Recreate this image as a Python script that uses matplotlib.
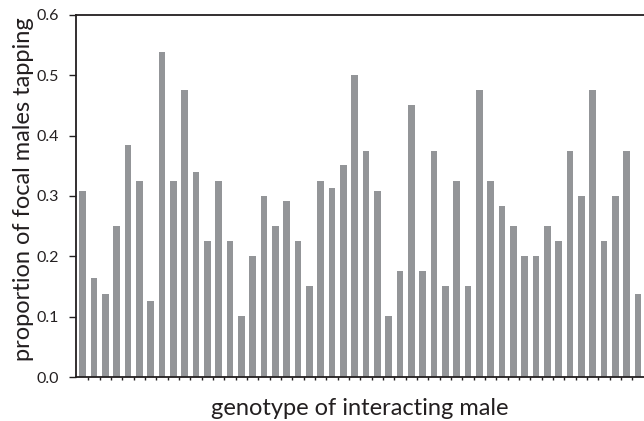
import matplotlib.pyplot as plt
import numpy as np

plt.rcParams['font.family'] = ['Lato', 'DejaVu Sans']

# proportion of focal males tapping, per interacting male genotype
tapping = [0.309, 0.164, 0.138, 0.251, 0.385, 0.325, 0.126, 0.538, 0.325, 0.476,
           0.339, 0.226, 0.325, 0.226, 0.101, 0.200, 0.300, 0.251, 0.292, 0.226,
           0.151, 0.325, 0.313, 0.351, 0.500, 0.375, 0.309, 0.101, 0.176, 0.450,
           0.176, 0.375, 0.151, 0.325, 0.151, 0.476, 0.325, 0.283, 0.251, 0.200,
           0.200, 0.251, 0.226, 0.375, 0.300, 0.476, 0.226, 0.300, 0.375, 0.138]
y_ticks = [0.0, 0.1, 0.2, 0.3, 0.4, 0.5, 0.6]

ink = '#231f20'
fig = plt.figure(figsize=(6.44, 4.21), dpi=100)
ax = fig.add_axes([0.118, 0.1045, 0.882, 0.86])

x = np.arange(len(tapping))
ax.bar(x, tapping, width=0.6, color='#939598', edgecolor='none')

ax.set_xlim(-0.59, len(tapping) - 0.47)
ax.set_ylim(0, 0.6)
ax.set_yticks(y_ticks)
ax.set_yticklabels(['{:.1f}'.format(v) for v in y_ticks], fontsize=11.5, color=ink)
ax.set_xticks(x[:-1] + 0.5)
ax.set_xticklabels([])
ax.tick_params(axis='x', direction='out', length=2.5, width=1, color=ink)
ax.tick_params(axis='y', direction='out', length=5, width=1, color=ink, pad=7)

for side in ['left', 'bottom', 'top']:
    ax.spines[side].set_color(ink)
    ax.spines[side].set_linewidth(1.3)
ax.spines['right'].set_visible(False)

ax.set_ylabel('proportion of focal males tapping', fontsize=17, color=ink)
ax.yaxis.set_label_coords(-0.074, 0.52)
ax.set_xlabel('genotype of interacting male', fontsize=17, color=ink, labelpad=9)

fig.savefig('out.png', dpi=100)
